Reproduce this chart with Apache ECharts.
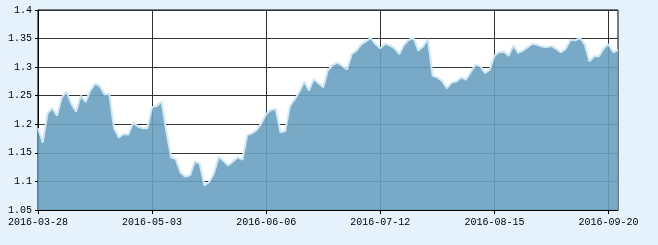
<!DOCTYPE html>
<html>
<head>
<meta charset="utf-8">
<script src="https://cdn.jsdelivr.net/npm/echarts@6/dist/echarts.min.js"></script>
<style>
html,body{margin:0;padding:0;background:#e6f2fb;}
#c{width:658px;height:245px;}
</style>
</head>
<body>
<div id="c"></div>
<script>
const dates = [
"2016-03-28","2016-03-29","2016-03-30","2016-03-31","2016-04-01",
"2016-04-05","2016-04-06","2016-04-07","2016-04-08",
"2016-04-11","2016-04-12","2016-04-13","2016-04-14","2016-04-15",
"2016-04-18","2016-04-19","2016-04-20","2016-04-21","2016-04-22",
"2016-04-25","2016-04-26","2016-04-27","2016-04-28","2016-04-29",
"2016-05-03","2016-05-04","2016-05-05","2016-05-06",
"2016-05-09","2016-05-10","2016-05-11","2016-05-12","2016-05-13",
"2016-05-16","2016-05-17","2016-05-18","2016-05-19","2016-05-20",
"2016-05-23","2016-05-24","2016-05-25","2016-05-26","2016-05-27",
"2016-05-30","2016-05-31","2016-06-01","2016-06-02","2016-06-03",
"2016-06-06","2016-06-07","2016-06-08",
"2016-06-13","2016-06-14","2016-06-15","2016-06-16","2016-06-17",
"2016-06-20","2016-06-21","2016-06-22","2016-06-23","2016-06-24",
"2016-06-27","2016-06-28","2016-06-29","2016-06-30","2016-07-01",
"2016-07-04","2016-07-05","2016-07-06","2016-07-07","2016-07-08",
"2016-07-11","2016-07-12","2016-07-13","2016-07-14","2016-07-15",
"2016-07-18","2016-07-19","2016-07-20","2016-07-21","2016-07-22",
"2016-07-25","2016-07-26","2016-07-27","2016-07-28","2016-07-29",
"2016-08-01","2016-08-02","2016-08-03","2016-08-04","2016-08-05",
"2016-08-08","2016-08-09","2016-08-10","2016-08-11","2016-08-12",
"2016-08-15","2016-08-16","2016-08-17","2016-08-18","2016-08-19",
"2016-08-22","2016-08-23","2016-08-24","2016-08-25","2016-08-26",
"2016-08-29","2016-08-30","2016-08-31","2016-09-01","2016-09-02",
"2016-09-05","2016-09-06","2016-09-07","2016-09-08","2016-09-09",
"2016-09-12","2016-09-13","2016-09-14",
"2016-09-19","2016-09-20","2016-09-21","2016-09-22"
];
const values = [
1.193,1.168,1.219,1.228,1.215,1.247,1.257,1.236,1.222,1.250,
1.239,1.259,1.271,1.267,1.252,1.253,1.193,1.177,1.183,1.182,
1.203,1.196,1.193,1.193,1.230,1.232,1.240,1.187,1.142,1.139,
1.115,1.108,1.111,1.135,1.131,1.093,1.099,1.114,1.143,1.136,
1.128,1.135,1.142,1.138,1.181,1.184,1.190,1.202,1.218,1.225,
1.227,1.186,1.188,1.232,1.244,1.257,1.275,1.259,1.279,1.272,
1.265,1.295,1.304,1.308,1.302,1.296,1.323,1.329,1.340,1.345,
1.351,1.340,1.333,1.341,1.338,1.333,1.323,1.339,1.348,1.351,
1.329,1.336,1.349,1.285,1.282,1.276,1.263,1.273,1.275,1.282,
1.278,1.291,1.304,1.302,1.290,1.295,1.320,1.326,1.327,1.320,
1.338,1.325,1.329,1.335,1.341,1.339,1.336,1.335,1.337,1.332,
1.326,1.332,1.348,1.347,1.351,1.340,1.310,1.319,1.319,1.333,
1.340,1.326,1.330
];
const yMin = 1.05, yMax = 1.4, yStep = 0.05;

const chart = echarts.init(document.getElementById('c'), null, {renderer:'canvas'});
const font = '"Liberation Mono","DejaVu Sans Mono",monospace';
chart.setOption({
  backgroundColor: '#e6f2fb',
  animation: false,
  grid: {left: 38, right: 40, top: 10, bottom: 35, show: true,
         backgroundColor: '#ffffff', borderColor: '#000', borderWidth: 1},
  xAxis: {
    type: 'category', data: dates, boundaryGap: false,
    axisLine: {lineStyle: {color: '#000', width: 1}},
    axisTick: {show: true, interval: 23, length: 4, lineStyle: {color: '#000'}},
    axisLabel: {interval: 23, color: '#000', fontFamily: font, fontSize: 10, margin: 7},
    splitLine: {show: true, interval: 23, lineStyle: {color: '#333', width: 1}}
  },
  yAxis: {
    type: 'value', min: yMin, max: yMax, interval: yStep,
    axisLine: {show: true, lineStyle: {color: '#000', width: 1}},
    axisTick: {show: true, length: 3, lineStyle: {color: '#000'}},
    axisLabel: {color: '#000', fontFamily: font, fontSize: 10, margin: 6,
                formatter: v => String(parseFloat(v.toFixed(2)))},
    splitLine: {show: true, lineStyle: {color: '#333', width: 1}}
  },
  series: [{
    type: 'line', data: values, symbol: 'none', smooth: false,
    lineStyle: {color: '#cfe7f4', width: 2},
    areaStyle: {color: 'rgb(105,160,192)', opacity: 0.9}
  }]
});
</script>
</body>
</html>
